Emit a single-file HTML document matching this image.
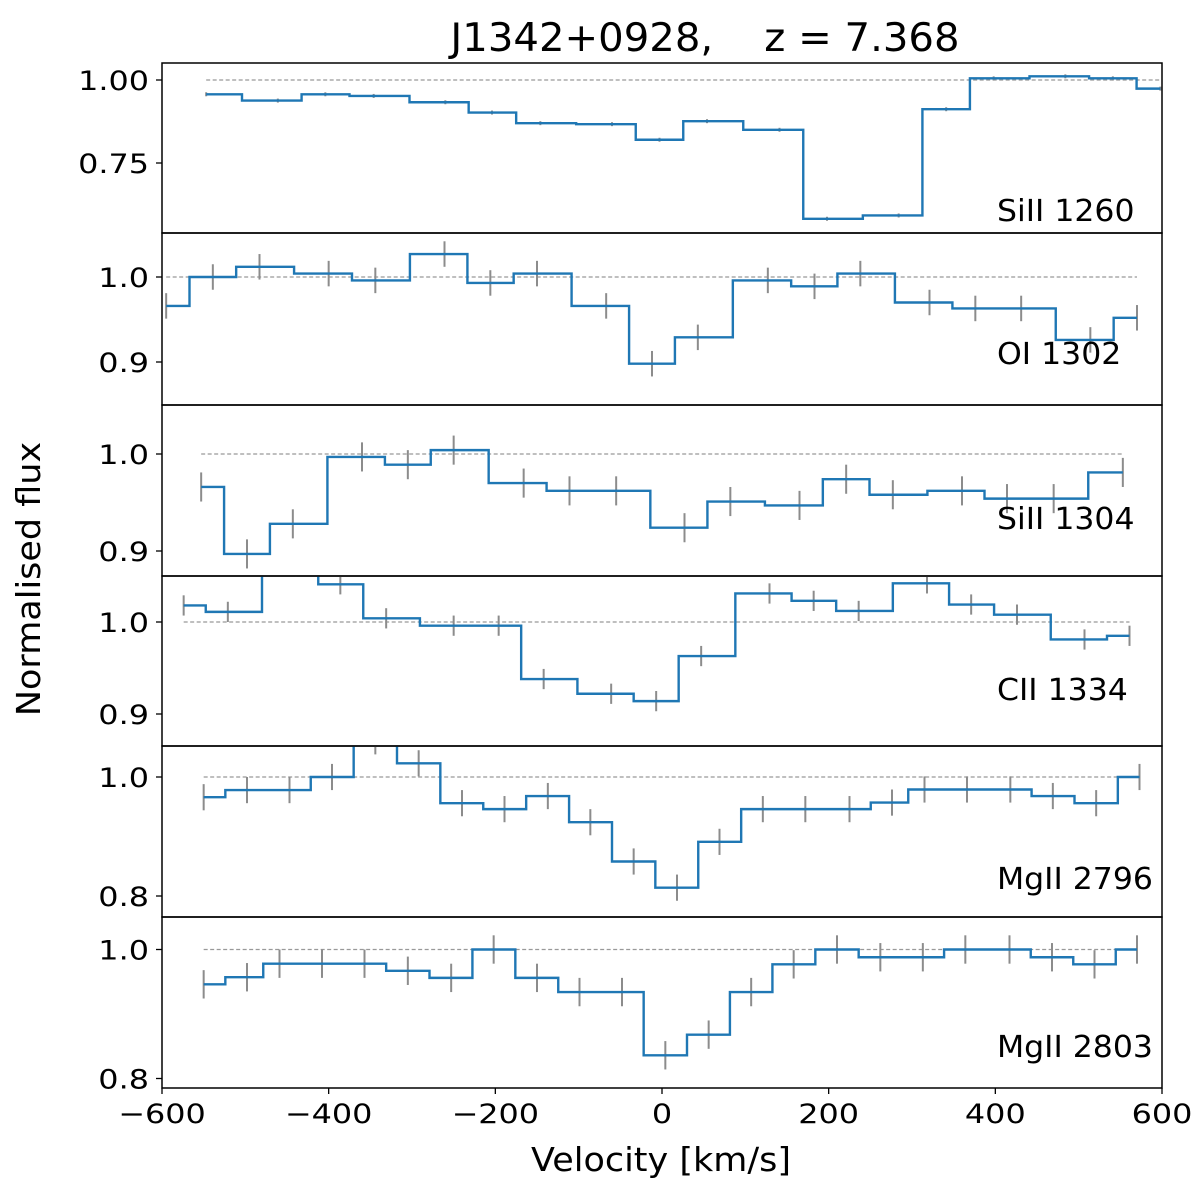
<!DOCTYPE html>
<html><head><meta charset="utf-8"><style>
body{margin:0;background:#fff}
svg text{font-family:"DejaVu Sans","Liberation Sans",sans-serif;fill:#000}
</style></head><body>
<svg id="fig" width="1200" height="1193" viewBox="0 0 1200 1193" xmlns="http://www.w3.org/2000/svg">
<text id="ttl" x="705" y="51" font-size="39" text-anchor="middle" xml:space="preserve">J1342+0928,    z = 7.368</text>
<text id="ylab" transform="translate(40,579) rotate(-90)" font-size="33" text-anchor="middle">Normalised flux</text>
<text id="xlab" x="661" y="1171" font-size="33" text-anchor="middle">Velocity [km/s]</text>
<g id="panels"></g>
</svg>
<script>
const xTicks=[-600,-400,-200,0,200,400,600];
const xTickLabels=["\u2212600","\u2212400","\u2212200","0","200","400","600"];
const p1Name="SiII 1260";
const p1V=[-547,-461,-404,-346,-260,-204,-146,-60,-3,54,141,198,284,341,398,484,541,598];
const p1F=[0.957,0.938,0.957,0.952,0.933,0.902,0.870,0.867,0.820,0.876,0.850,0.582,0.592,0.912,1.005,1.011,1.005,0.974];
const p1E=0.006;
const p2Name="OI 1302";
const p2V=[-595,-539,-483,-400,-344,-261,-206,-150,-67,-12,43,127,183,238,321,376,431,514,570];
const p2F=[0.966,1.0,1.012,1.004,0.996,1.027,0.993,1.004,0.966,0.898,0.929,0.996,0.989,1.004,0.970,0.963,0.963,0.926,0.952];
const p2E=0.015;
const p3Name="SiII 1304";
const p3V=[-553,-498,-443,-360,-305,-250,-166,-111,-55,27,82,165,221,277,360,414,470,553];
const p3F=[0.966,0.897,0.928,0.997,0.989,1.004,0.970,0.962,0.962,0.924,0.951,0.947,0.974,0.958,0.962,0.954,0.954,0.981];
const p3E=0.015;
const p4Name="CII 1334";
const p4V=[-574,-521,-439,-386,-331,-250,-196,-142,-61,-7,47,129,182,236,318,371,426,507,561];
const p4F=[1.018,1.011,1.06,1.041,1.004,0.996,0.996,0.938,0.922,0.914,0.963,1.031,1.023,1.012,1.042,1.019,1.008,0.981,0.985];
const p4E=0.011;
const p5Name="MgII 2796";
const p5V=[-550,-498,-447,-396,-344,-292,-240,-189,-137,-86,-34,18,69,121,172,225,276,315,366,418,469,521,573];
const p5F=[0.966,0.978,0.978,1.0,1.06,1.023,0.956,0.946,0.968,0.924,0.858,0.814,0.891,0.946,0.946,0.946,0.957,0.979,0.979,0.979,0.968,0.956,1.0];
const p5E=0.022;
const p6Name="MgII 2803";
const p6V=[-550,-498,-459,-408,-357,-305,-253,-202,-150,-99,-48,4,56,107,158,210,262,313,364,417,468,519,570];
const p6F=[0.946,0.957,0.978,0.978,0.978,0.967,0.956,1.0,0.956,0.934,0.934,0.836,0.868,0.934,0.977,1.0,0.988,0.988,1.0,1.0,0.988,0.977,1.0];
const p6E=0.022;
const p1Ticks=[0.75,1.00], p1TL=["0.75","1.00"];
const p2Ticks=[0.9,1.0], p2TL=["0.9","1.0"];
const p3Ticks=[0.9,1.0], p3TL=["0.9","1.0"];
const p4Ticks=[0.9,1.0], p4TL=["0.9","1.0"];
const p5Ticks=[0.8,1.0], p5TL=["0.8","1.0"];
const p6Ticks=[0.8,1.0], p6TL=["0.8","1.0"];

const NS="http://www.w3.org/2000/svg";
const L=162,R=1162;
const xs=v=>L+(v+600)/1200*(R-L);
const layout=[
 {top:63,bot:233,y1:80,ppu:332,labY:221},
 {top:233,bot:405,y1:277,ppu:850,labY:364},
 {top:405,bot:576,y1:454,ppu:970,labY:529},
 {top:576,bot:746,y1:622,ppu:920,labY:700},
 {top:746,bot:917,y1:777,ppu:595,labY:889},
 {top:917,bot:1088,y1:949.5,ppu:645,labY:1057}];
const panels=[[p1Name,p1V,p1F,p1E,p1Ticks,p1TL],[p2Name,p2V,p2F,p2E,p2Ticks,p2TL],[p3Name,p3V,p3F,p3E,p3Ticks,p3TL],[p4Name,p4V,p4F,p4E,p4Ticks,p4TL],[p5Name,p5V,p5F,p5E,p5Ticks,p5TL],[p6Name,p6V,p6F,p6E,p6Ticks,p6TL]];
const root=document.getElementById('panels');
function mk(tag,attrs,parent){const e=document.createElementNS(NS,tag);for(const k in attrs)e.setAttribute(k,attrs[k]);parent.appendChild(e);return e;}
function fit(el,f){const w=el.getComputedTextLength();if(w>0){el.setAttribute('textLength',(w*f).toFixed(1));el.setAttribute('lengthAdjust','spacingAndGlyphs');}}
panels.forEach((p,i)=>{
 const [name,V,F,E,T,TL]=p; const g=layout[i];
 const ys=f=>g.y1-(f-1)*g.ppu;
 const grp=mk('g',{},root);
 
 
 const cp=mk('clipPath',{id:'c'+i},grp);
 mk('rect',{x:L,y:g.top,width:R-L,height:g.bot-g.top},cp);
 const inner=mk('g',{'clip-path':'url(#c'+i+')'},grp);
 const dl=mk('line',{x1:xs(V[0]),x2:xs(V[V.length-1]),y1:ys(1),y2:ys(1),stroke:'#999','stroke-width':1.3,'stroke-dasharray':'4,2.5'},inner);
 
 
 V.forEach((v,j)=>{
  const eb=mk('line',{x1:xs(v),x2:xs(v),y1:ys(F[j]+E),y2:ys(F[j]-E),stroke:'#8c8c8c','stroke-width':2},inner);
  
  
 });
 let d='M'+xs(V[0])+','+ys(F[0]);
 for(let j=1;j<V.length;j++){const m=xs((V[j-1]+V[j])/2);d+=' H'+m+' V'+ys(F[j]);}
 d+=' H'+xs(V[V.length-1]);
 const sp=mk('path',{d:d,fill:'none',stroke:'#1f77b4','stroke-width':2.4},inner);
 
 
 const fr=mk('rect',{x:L,y:g.top,width:R-L,height:g.bot-g.top,fill:'none',stroke:'#000','stroke-width':1.5},grp);
 
 
 T.forEach((t,j)=>{
  const y=ys(t);
  mk('line',{x1:L-6,x2:L,y1:y,y2:y,stroke:'#000','stroke-width':1.3},grp);
  const tx=mk('text',{x:L-13,y:y+10,'font-size':27,'text-anchor':'end'},grp);
  tx.textContent=TL[j];
  
  
  fit(tx,1.18);
 });
 const lb=mk('text',{x:997,y:g.labY,'font-size':30},grp);
 lb.textContent=name;
 
 
 fit(lb,1.05);
});
xTicks.forEach((t,j)=>{
 const x=xs(t);
 mk('line',{x1:x,x2:x,y1:1088,y2:1094,stroke:'#000','stroke-width':1.3},root);
 const tx=mk('text',{x:x,y:1123,'font-size':27,'text-anchor':'middle'},root);
 tx.textContent=xTickLabels[j];
 
 
 fit(tx,1.18);
});
fit(document.getElementById('ttl'),1.03);
fit(document.getElementById('xlab'),1.06);
fit(document.getElementById('ylab'),1.06);
</script>
</body></html>
